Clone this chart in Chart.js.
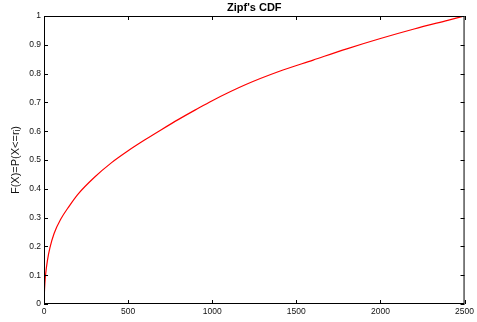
<!DOCTYPE html>
<html>
<head>
<meta charset="utf-8">
<script src="https://cdn.jsdelivr.net/npm/chart.js@4.4.1/dist/chart.umd.min.js"></script>
<style>
  html, body { margin: 0; padding: 0; background: #fff; }
  #wrap { width: 477px; height: 322px; }
</style>
</head>
<body>
<div id="wrap"><canvas id="cdf"></canvas></div>
<script>
// values
const ranks = [1, 2, 5, 10, 20, 35, 60, 100, 150, 200, 300, 400, 500, 600, 700, 800, 900, 1000, 1200, 1400, 1600, 1800, 2000, 2200, 2400, 2500];
const cdf = [0.015, 0.035, 0.07, 0.105, 0.15, 0.195, 0.245, 0.295, 0.34, 0.38, 0.44, 0.49, 0.532, 0.57, 0.606, 0.641, 0.674, 0.706, 0.762, 0.808, 0.847, 0.886, 0.922, 0.955, 0.985, 1.0];
const xTicks = [0, 500, 1000, 1500, 2000, 2500];
const yTicks = [0, 0.1, 0.2, 0.3, 0.4, 0.5, 0.6, 0.7, 0.8, 0.9, 1];

const font = "'Liberation Sans', Arial, Helvetica, sans-serif";

// matlab style box with inward ticks, plus the title over the axes
const boxPlugin = {
    id: 'box',
    afterDraw(chart) {
        const ctx = chart.ctx;
        const { left, right, top, bottom } = chart.chartArea;
        const x = chart.scales.x, y = chart.scales.y;
        ctx.save();
        ctx.strokeStyle = '#000';
        ctx.lineWidth = 1;
        ctx.strokeRect(left + 0.5, top + 0.5, right - left - 1, bottom - top - 1);
        ctx.beginPath();
        xTicks.forEach((v) => {
            const px = Math.round(x.getPixelForValue(v)) + 0.5;
            ctx.moveTo(px, bottom); ctx.lineTo(px, bottom - 4);
            ctx.moveTo(px, top); ctx.lineTo(px, top + 4);
        });
        yTicks.forEach((v) => {
            const py = Math.round(y.getPixelForValue(v)) + 0.5;
            ctx.moveTo(left, py); ctx.lineTo(left + 4, py);
            ctx.moveTo(right, py); ctx.lineTo(right - 4, py);
        });
        ctx.stroke();
        ctx.fillStyle = '#000';
        ctx.font = 'bold 11px ' + font;
        ctx.textAlign = 'center';
        ctx.textBaseline = 'alphabetic';
        ctx.fillText("Zipf's CDF", (left + right) / 2, 10.5);
        ctx.restore();
    }
};

new Chart(document.getElementById('cdf').getContext('2d'), {
    type: 'line',
    data: {
        datasets: [{
            label: 'CDF',
            data: ranks.map((r, i) => ({ x: r, y: cdf[i] })),
            borderColor: '#ff0000',
            borderWidth: 1.2,
            pointRadius: 0,
            fill: false,
            cubicInterpolationMode: 'monotone'
        }]
    },
    options: {
        responsive: true,
        maintainAspectRatio: false,
        animation: false,
        layout: { padding: { top: 16, right: 10.5, left: 0, bottom: 0 } },
        plugins: {
            legend: { display: false },
            tooltip: { enabled: false },
            title: { display: false }
        },
        scales: {
            x: {
                type: 'linear',
                min: 0,
                max: 2500,
                afterBuildTicks: (s) => { s.ticks = xTicks.map((v) => ({ value: v })); },
                afterFit: (s) => { s.height = 18; },
                grid: { display: false, drawTicks: false },
                border: { display: false },
                ticks: {
                    padding: 3, color: '#111', maxRotation: 0,
                    font: { family: font, size: 8.5 },
                    callback: (v) => String(v)
                }
            },
            y: {
                min: 0,
                max: 1,
                afterBuildTicks: (s) => { s.ticks = yTicks.map((v) => ({ value: v })); },
                afterFit: (s) => { s.width = 44; },
                grid: { display: false, drawTicks: false },
                border: { display: false },
                ticks: {
                    padding: 3, color: '#111',
                    font: { family: font, size: 8.5 },
                    callback: (v) => String(Math.round(v * 10) / 10)
                },
                title: {
                    display: true,
                    text: 'F(X)=P(X<=rᵢ)',
                    color: '#111',
                    font: { family: font, size: 11 },
                    padding: { top: 9, bottom: 0 }
                }
            }
        }
    },
    plugins: [boxPlugin]
});
</script>
</body>
</html>
